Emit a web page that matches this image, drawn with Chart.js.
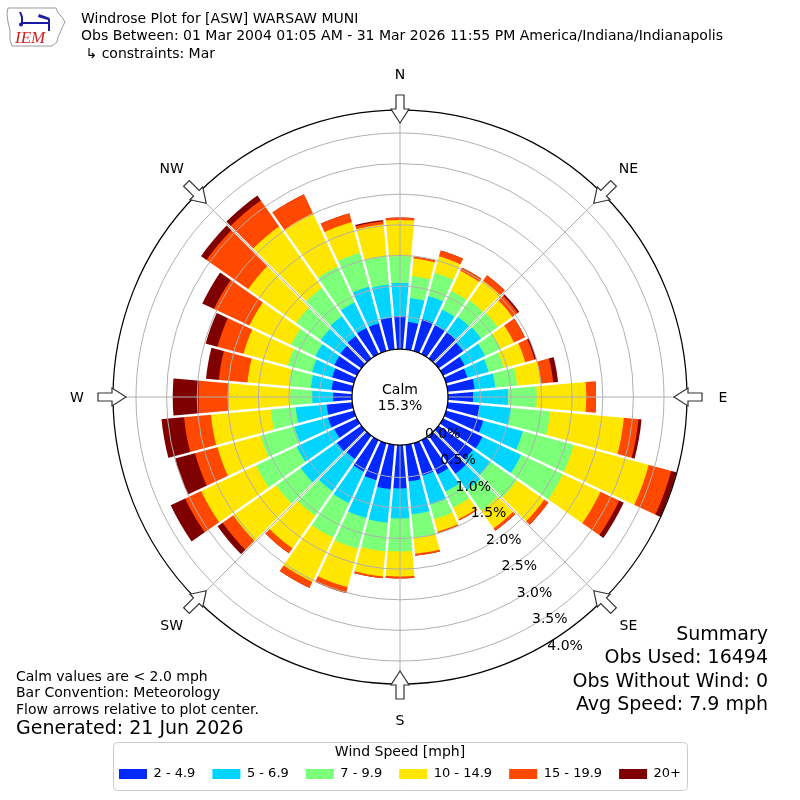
<!DOCTYPE html>
<html>
<head>
<meta charset="utf-8">
<title>Windrose Plot for [ASW] WARSAW MUNI</title>
<script src="https://cdn.jsdelivr.net/npm/chart.js@4.4.1/dist/chart.umd.min.js"></script>
<style>
  body { margin: 0; background: #fff; }
  #wrap { width: 800px; height: 800px; }
</style>
</head>
<body>
<div id="wrap"><canvas id="rose" width="800" height="800"></canvas></div>
<script>
// wind directions (deg, meteorological, bar centres)
const directions = [0, 10, 20, 30, 40, 50, 60, 70, 80, 90, 100, 110, 120, 130, 140, 150, 160, 170,
                    180, 190, 200, 210, 220, 230, 240, 250, 260, 270, 280, 290, 300, 310, 320, 330, 340, 350];

// frequency (% of obs) per speed bin and direction
const freq2to5   = [0.51, 0.42, 0.51, 0.49, 0.49, 0.46, 0.36, 0.33, 0.41, 0.38, 0.49, 0.60, 0.68, 0.65, 0.73, 0.59, 0.52, 0.57,
                    0.68, 0.70, 0.60, 0.54, 0.44, 0.46, 0.38, 0.41, 0.39, 0.28, 0.31, 0.34, 0.38, 0.39, 0.42, 0.44, 0.44, 0.49];
const freq5to7   = [0.54, 0.39, 0.39, 0.28, 0.31, 0.36, 0.37, 0.36, 0.34, 0.57, 0.52, 0.67, 0.70, 0.36, 0.33, 0.31, 0.49, 0.54,
                    0.49, 0.55, 0.64, 0.57, 0.64, 0.72, 0.68, 0.57, 0.51, 0.34, 0.34, 0.34, 0.34, 0.39, 0.39, 0.46, 0.62, 0.54];
const freq7to10  = [0.44, 0.36, 0.39, 0.34, 0.33, 0.33, 0.28, 0.26, 0.36, 0.47, 0.64, 0.86, 0.75, 0.52, 0.41, 0.29, 0.25, 0.39,
                    0.54, 0.47, 0.52, 0.62, 0.49, 0.49, 0.73, 0.57, 0.41, 0.36, 0.36, 0.41, 0.44, 0.49, 0.57, 0.65, 0.57, 0.47];
const freq10to15 = [0.59, 0.29, 0.28, 0.36, 0.39, 0.29, 0.24, 0.36, 0.39, 0.81, 1.21, 1.27, 0.68, 0.55, 0.35, 0.21, 0.21, 0.26,
                    0.41, 0.41, 0.65, 0.80, 0.65, 0.86, 0.99, 0.73, 0.98, 1.01, 0.68, 0.75, 0.75, 0.96, 1.22, 0.96, 0.52, 0.52];
const freq15to20 = [0.04, 0.03, 0.10, 0.06, 0.11, 0.11, 0.20, 0.16, 0.20, 0.16, 0.24, 0.38, 0.34, 0.08, 0.05, 0.02, 0.02, 0.03,
                    0.03, 0.03, 0.10, 0.11, 0.10, 0.21, 0.29, 0.38, 0.44, 0.49, 0.47, 0.44, 0.64, 0.83, 0.52, 0.34, 0.15, 0.05];
const freq20up   = [0.00, 0.00, 0.00, 0.00, 0.00, 0.03, 0.00, 0.03, 0.08, 0.00, 0.05, 0.09, 0.08, 0.00, 0.00, 0.00, 0.00, 0.00,
                    0.00, 0.00, 0.00, 0.00, 0.00, 0.10, 0.26, 0.34, 0.37, 0.42, 0.21, 0.20, 0.21, 0.11, 0.10, 0.00, 0.00, 0.02];

const speedBins = ['2 - 4.9', '5 - 6.9', '7 - 9.9', '10 - 14.9', '15 - 19.9', '20+'];
const binColors = ['#0028ff', '#00d4ff', '#7cff79', '#ffe600', '#ff4800', '#7f0000'];

const radialTicks = [0.0, 0.5, 1.0, 1.5, 2.0, 2.5, 3.0, 3.5, 4.0];
const compassLabels = ['N', 'NE', 'E', 'SE', 'S', 'SW', 'W', 'NW'];
const compassAngles = [0, 45, 90, 135, 180, 225, 270, 315];
const calmPercent = 15.3;

const titleLines = [
    'Windrose Plot for [ASW] WARSAW MUNI',
    'Obs Between: 01 Mar 2004 01:05 AM - 31 Mar 2026 11:55 PM America/Indiana/Indianapolis',
    ' \u21b3 constraints: Mar'
];
const noteLines = ['Calm values are < 2.0 mph', 'Bar Convention: Meteorology', 'Flow arrows relative to plot center.'];
const generatedLine = 'Generated: 21 Jun 2026';
const summaryLines = ['Summary', 'Obs Used: 16494', 'Obs Without Wind: 0', 'Avg Speed: 7.9 mph'];

// stack the bins: each dataset holds the running total, smaller totals drawn on top
const speedFreqs = [freq2to5, freq5to7, freq7to10, freq10to15, freq15to20, freq20up];
const cumulative = [];
let running = directions.map(() => 0);
speedFreqs.forEach(arr => {
    running = running.map((v, i) => v + arr[i]);
    cumulative.push(running.slice());
});

const FONT = "'DejaVu Sans', sans-serif";
Chart.defaults.font.family = FONT;
Chart.defaults.color = '#000';

function polar(scale, deg, dist) {
    const a = deg * Math.PI / 180;
    return { x: scale.xCenter + dist * Math.sin(a), y: scale.yCenter - dist * Math.cos(a) };
}

function drawArrow(ctx, scale, deg) {
    const R = scale.drawingArea;
    const shape = [[R - 13, 0], [R + 1, 9], [R + 1, 4], [R + 15, 4], [R + 15, -4], [R + 1, -4], [R + 1, -9]];
    const a = deg * Math.PI / 180;
    const ux = Math.sin(a), uy = -Math.cos(a), px = Math.cos(a), py = Math.sin(a);
    ctx.beginPath();
    shape.forEach(([r, w], i) => {
        const x = scale.xCenter + r * ux + w * px;
        const y = scale.yCenter + r * uy + w * py;
        if (i === 0) ctx.moveTo(x, y); else ctx.lineTo(x, y);
    });
    ctx.closePath();
    ctx.fillStyle = '#fff';
    ctx.fill();
    ctx.strokeStyle = '#333';
    ctx.lineWidth = 1.2;
    ctx.stroke();
}

function drawLogo(ctx) {
    ctx.save();
    // state outline
    ctx.beginPath();
    ctx.moveTo(8, 8); ctx.lineTo(56, 8); ctx.lineTo(58, 13); ctx.lineTo(62, 17); ctx.lineTo(65, 22);
    ctx.lineTo(62, 28); ctx.lineTo(60, 33); ctx.lineTo(58, 37); ctx.lineTo(57, 42); ctx.lineTo(52, 46);
    ctx.lineTo(12, 46); ctx.lineTo(10, 40); ctx.lineTo(10, 30); ctx.lineTo(8, 22); ctx.lineTo(7, 14);
    ctx.closePath();
    ctx.strokeStyle = '#999';
    ctx.lineWidth = 1;
    ctx.stroke();
    // station glyph
    ctx.strokeStyle = '#1a1aa8';
    ctx.fillStyle = '#1a1aa8';
    ctx.lineWidth = 2;
    ctx.beginPath();
    ctx.moveTo(22, 23); ctx.lineTo(50, 23);
    ctx.moveTo(20, 12); ctx.lineTo(22, 17); ctx.lineTo(22, 23);
    ctx.moveTo(49, 19); ctx.lineTo(49, 31);
    ctx.stroke();
    ctx.beginPath();
    ctx.moveTo(39, 14); ctx.lineTo(50, 18); ctx.lineTo(48, 20); ctx.lineTo(38, 17); ctx.closePath();
    ctx.fill();
    ctx.beginPath();
    ctx.arc(21, 24.5, 2, 0, Math.PI * 2);
    ctx.fill();
    // IEM text
    ctx.fillStyle = '#d42020';
    ctx.font = "italic 17px 'Liberation Serif', serif";
    ctx.textAlign = 'left';
    ctx.textBaseline = 'alphabetic';
    ctx.fillText('IEM', 15, 43);
    ctx.restore();
}

const roseDecor = {
    id: 'roseDecor',
    afterDatasetsDraw(chart) {
        const ctx = chart.ctx;
        const scale = chart.scales.r;
        const R = scale.drawingArea;
        ctx.save();
        // white gaps between the direction bars
        ctx.strokeStyle = '#fff';
        ctx.lineWidth = 2.5;
        directions.forEach(d => {
            const p0 = polar(scale, d - 5, 30);
            const p1 = polar(scale, d - 5, R + 8);
            ctx.beginPath();
            ctx.moveTo(p0.x, p0.y);
            ctx.lineTo(p1.x, p1.y);
            ctx.stroke();
        });
        // compass spokes
        ctx.strokeStyle = '#b0b0b0';
        ctx.lineWidth = 1;
        compassAngles.forEach(d => {
            const p1 = polar(scale, d, R);
            ctx.beginPath();
            ctx.moveTo(scale.xCenter, scale.yCenter);
            ctx.lineTo(p1.x, p1.y);
            ctx.stroke();
        });
        ctx.restore();
    },
    afterDraw(chart) {
        const ctx = chart.ctx;
        const scale = chart.scales.r;
        const R = scale.drawingArea;
        ctx.save();

        // outer frame
        ctx.beginPath();
        ctx.arc(scale.xCenter, scale.yCenter, R, 0, Math.PI * 2);
        ctx.strokeStyle = '#000';
        ctx.lineWidth = 1.25;
        ctx.stroke();

        // compass arrows and labels
        ctx.font = '14px ' + FONT;
        ctx.textAlign = 'center';
        ctx.textBaseline = 'middle';
        compassAngles.forEach((d, i) => {
            drawArrow(ctx, scale, d);
            const p = polar(scale, d, R + 36);
            ctx.fillStyle = '#000';
            ctx.fillText(compassLabels[i], p.x, p.y + 1);
        });

        // calm circle
        ctx.beginPath();
        ctx.arc(scale.xCenter, scale.yCenter, 48, 0, Math.PI * 2);
        ctx.fillStyle = '#fff';
        ctx.fill();
        ctx.strokeStyle = '#000';
        ctx.lineWidth = 1.25;
        ctx.stroke();
        ctx.fillStyle = '#000';
        ctx.font = '14px ' + FONT;
        ctx.fillText('Calm', scale.xCenter, scale.yCenter - 7);
        ctx.fillText(calmPercent.toFixed(1) + '%', scale.xCenter, scale.yCenter + 9);

        // radial percent labels, anchored at lower-left on the 150 degree ray
        ctx.font = '14px ' + FONT;
        ctx.textAlign = 'left';
        ctx.textBaseline = 'bottom';
        radialTicks.forEach(v => {
            const p = polar(scale, 150, scale.getDistanceFromCenterForValue(v));
            ctx.fillText(v.toFixed(1) + '%', p.x, p.y + 1);
        });

        // header
        ctx.textBaseline = 'middle';
        drawLogo(ctx);
        ctx.textAlign = 'left';
        ctx.textBaseline = 'middle';
        ctx.font = '14px ' + FONT;
        titleLines.forEach((t, i) => ctx.fillText(t, 81, 19 + i * 17.5));

        // notes bottom left
        noteLines.forEach((t, i) => ctx.fillText(t, 16, 677 + i * 16.5));
        ctx.font = '19px ' + FONT;
        ctx.fillText(generatedLine, 16, 729);

        // summary bottom right
        ctx.textAlign = 'right';
        summaryLines.forEach((t, i) => ctx.fillText(t, 768, 635 + i * 23.5));

        // legend frame
        ctx.beginPath();
        ctx.roundRect(113.5, 742.5, 574, 48, 4);
        ctx.strokeStyle = '#cccccc';
        ctx.lineWidth = 1;
        ctx.stroke();

        ctx.restore();
    }
};

new Chart(document.getElementById('rose'), {
    type: 'polarArea',
    data: {
        labels: directions.map(d => d + '\u00b0'),
        datasets: speedBins.map((label, k) => ({
            label: label,
            data: cumulative[k],
            backgroundColor: binColors[k],
            borderWidth: 0
        }))
    },
    options: {
        responsive: false,
        devicePixelRatio: 1,
        animation: false,
        events: [],
        layout: { padding: { top: 110, bottom: 9.5, left: 0, right: 0 } },
        scales: {
            r: {
                min: -0.814,
                max: 3.876,
                startAngle: -5,
                ticks: { display: false },
                grid: { circular: true, color: '#b0b0b0', lineWidth: 1, z: 1 },
                angleLines: { display: false },
                pointLabels: { display: false },
                afterBuildTicks: (scale) => {
                    scale.ticks = radialTicks.filter(v => v > 0 && v < scale.max).map(v => ({ value: v }));
                }
            }
        },
        plugins: {
            tooltip: { enabled: false },
            legend: {
                position: 'bottom',
                labels: {
                    boxWidth: 28,
                    boxHeight: 10,
                    padding: 17,
                    font: { size: 13 },
                    generateLabels: (chart) => chart.data.datasets.map((ds, i) => ({
                        text: ds.label,
                        fillStyle: ds.backgroundColor,
                        strokeStyle: ds.backgroundColor,
                        lineWidth: 0,
                        hidden: false,
                        datasetIndex: i
                    }))
                },
                title: {
                    display: true,
                    text: 'Wind Speed [mph]',
                    font: { size: 14 },
                    padding: { top: 59.5, bottom: -11.6 }
                }
            }
        }
    },
    plugins: [roseDecor]
});
</script>
</body>
</html>
